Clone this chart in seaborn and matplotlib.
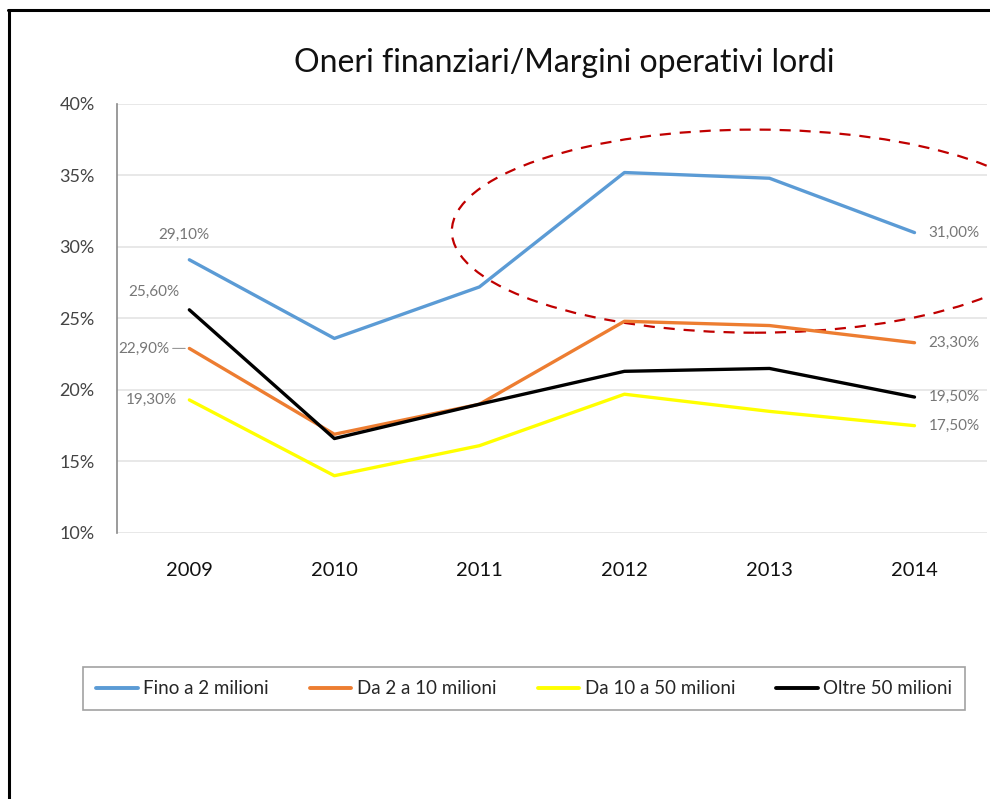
import matplotlib
matplotlib.use("Agg")
import matplotlib.pyplot as plt
import seaborn as sns
import pandas as pd
from matplotlib.patches import Ellipse
from matplotlib.lines import Line2D

years = [2009, 2010, 2011, 2012, 2013, 2014]
fino_2 = [29.1, 23.6, 27.2, 35.2, 34.8, 31.0]
da_2_10 = [22.9, 16.9, 19.0, 24.8, 24.5, 23.3]
da_10_50 = [19.3, 14.0, 16.1, 19.7, 18.5, 17.5]
oltre_50 = [25.6, 16.6, 19.0, 21.3, 21.5, 19.5]
series_names = ["Fino a 2 milioni", "Da 2 a 10 milioni", "Da 10 a 50 milioni", "Oltre 50 milioni"]
colors = ["#5B9BD5", "#ED7D31", "#FFFF00", "#000000"]
title = "Oneri finanziari/Margini operativi lordi"
yticks = [10, 15, 20, 25, 30, 35, 40]

sns.set_theme(style="white")
plt.rcParams['font.family'] = ['Lato', 'DejaVu Sans']

rows = []
for name, vals in zip(series_names, [fino_2, da_2_10, da_10_50, oltre_50]):
    for y, v in zip(years, vals):
        rows.append({"Anno": y, "Valore": v, "Serie": name})
df = pd.DataFrame(rows)

fig = plt.figure(figsize=(9.9, 7.99), dpi=100)
ax = fig.add_axes([0.118, 0.333, 0.879, 0.537])

sns.lineplot(data=df, x="Anno", y="Valore", hue="Serie", palette=colors,
             hue_order=series_names, linewidth=2.4, ax=ax, legend=False, sort=False)

ax.set_xlim(years[0] - 0.5, years[-1] + 0.5)
ax.set_ylim(10, 40)
ax.set_yticks(yticks)
ax.set_yticklabels([f"{t}%" for t in yticks], fontsize=13, color="#444444")
ax.set_xticks(years)
ax.set_xticklabels([str(y) for y in years], fontsize=14.5, color="#111111")
ax.tick_params(axis="x", pad=21, length=0)
ax.tick_params(axis="y", pad=16, length=0)
ax.set_xlabel("")
ax.set_ylabel("")
ax.grid(axis="y", color="#e4e4e4", linewidth=1.2)
ax.set_axisbelow(True)
for s in ["top", "right", "bottom"]:
    ax.spines[s].set_visible(False)
ax.spines["left"].set_color("#8a8a8a")
ax.spines["left"].set_linewidth(1.2)

def fmt(v):
    return f"{v:.2f}".replace(".", ",") + "%"

lbl_kw = dict(fontsize=11, color="#777777", textcoords="offset points")
# order: blue, orange, yellow, black
left_offsets = [(-4, 18), (-14, 0), (-9, 0), (-7, 13)]
left_ha = ["center", "right", "right", "right"]
all_vals = [fino_2, da_2_10, da_10_50, oltre_50]
for vals, off, ha in zip(all_vals, left_offsets, left_ha):
    ax.annotate(fmt(vals[0]), (years[0], vals[0]), xytext=off, ha=ha, va="center", **lbl_kw)
# small leader for orange label
ax.annotate("", (years[0], da_2_10[0]), xytext=(-12, 0), textcoords="offset points",
            arrowprops=dict(arrowstyle="-", color="#999999", lw=0.8, shrinkA=0, shrinkB=3))
for vals in all_vals:
    ax.annotate(fmt(vals[-1]), (years[-1], vals[-1]), xytext=(10, 0), ha="left", va="center", **lbl_kw)

ell = Ellipse((2012.9, 31.1), width=4.18, height=14.2, fill=False, edgecolor="#C00000",
              linestyle=(0, (5, 4)), linewidth=1.6, clip_on=False)
ax.add_patch(ell)

fig.suptitle(title, x=0.57, y=0.94, fontsize=23, color="#111111")

handles = [Line2D([0], [0], color=c, linewidth=2.8) for c in colors]
leg = fig.legend(handles, series_names, loc="lower left", ncol=4,
                 bbox_to_anchor=(0.084, 0.111, 0.891, 0.059), mode="expand",
                 fontsize=13.5, frameon=True, fancybox=False, handlelength=2.2,
                 handletextpad=0.3, borderaxespad=0, borderpad=0.7)
leg.get_frame().set_edgecolor("#8a8a8a")
leg.get_frame().set_linewidth(1.2)

# outer frame (top and left)
fig.add_artist(Line2D([0.008, 1.0], [0.987, 0.987], color="black", linewidth=2.2, transform=fig.transFigure))
fig.add_artist(Line2D([0.009, 0.009], [0.0, 0.987], color="black", linewidth=2.2, transform=fig.transFigure))

fig.savefig("out.png", dpi=100)
